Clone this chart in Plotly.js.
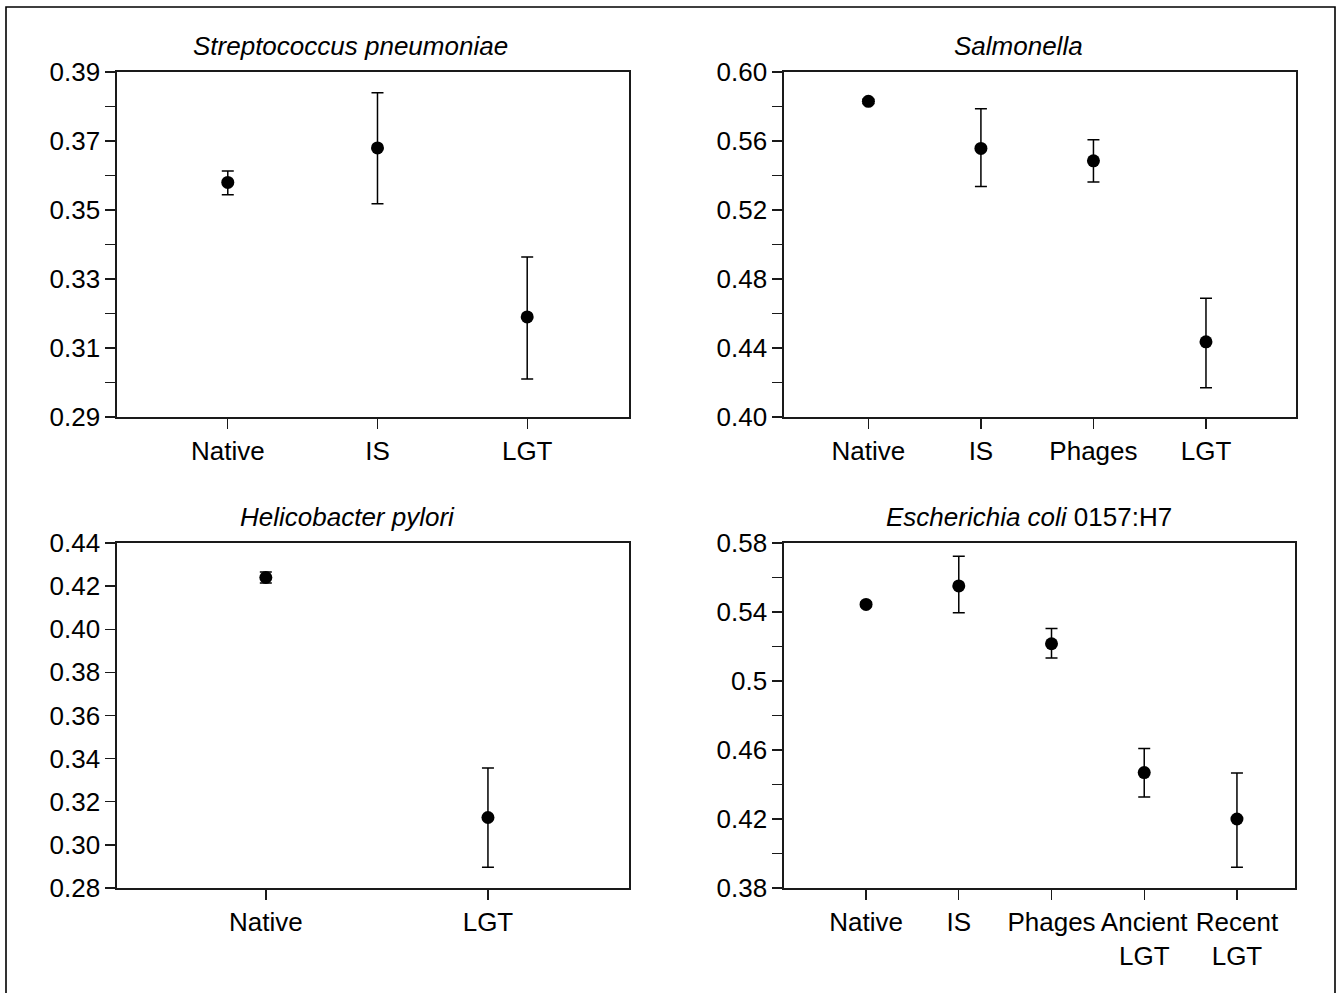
<!DOCTYPE html>
<html>
<head>
<meta charset="utf-8">
<script src="https://cdn.plot.ly/plotly-3.0.1.min.js"></script>
<style>
  html, body { margin: 0; padding: 0; background: #fff; }
  #chart { width: 1336px; height: 993px; }
</style>
</head>
<body>
<div id="chart"></div>
<script>
// ---------- Data ----------
// Streptococcus pneumoniae
const strepCats = ['Native', 'IS', 'LGT'];
const strepMean = [0.358, 0.368, 0.319];
const strepErrUp = [0.0033, 0.016, 0.0174];
const strepErrDown = [0.0036, 0.0162, 0.018];
const strepTicks = [0.29, 0.31, 0.33, 0.35, 0.37, 0.39];
const strepMinor = [0.30, 0.32, 0.34, 0.36, 0.38];

// Salmonella
const salCats = ['Native', 'IS', 'Phages', 'LGT'];
const salMean = [0.583, 0.5557, 0.5485, 0.4436];
const salErrUp = [0.0012, 0.023, 0.0122, 0.0253];
const salErrDown = [0.0012, 0.0221, 0.0122, 0.0266];
const salTicks = [0.40, 0.44, 0.48, 0.52, 0.56, 0.60];
const salMinor = [0.42, 0.46, 0.50, 0.54, 0.58];

// Helicobacter pylori
const heliCats = ['Native', 'LGT'];
const heliMean = [0.424, 0.3127];
const heliErrUp = [0.0026, 0.023];
const heliErrDown = [0.0026, 0.0231];
const heliTicks = [0.28, 0.30, 0.32, 0.34, 0.36, 0.38, 0.40, 0.42, 0.44];

// Escherichia coli 0157:H7
const ecoliCats = ['Native', 'IS', 'Phages', 'Ancient<br>LGT', 'Recent<br>LGT'];
const ecoliMean = [0.5444, 0.5551, 0.5216, 0.4469, 0.420];
const ecoliErrUp = [0.0012, 0.0172, 0.0089, 0.0139, 0.0267];
const ecoliErrDown = [0.0012, 0.0155, 0.0083, 0.0141, 0.028];
const ecoliTicks = [0.38, 0.42, 0.46, 0.50, 0.54, 0.58];
const ecoliTickText = ['0.38', '0.42', '0.46', '0.5', '0.54', '0.58'];
const ecoliMinor = [0.40, 0.44, 0.48, 0.52, 0.56];

// ---------- Styling ----------
const W = 1336, H = 993;
const FONT = '"Liberation Sans", Arial, Helvetica, sans-serif';
const AX = '#1a1a1a';
const FS = 26;

function pt(cats, mean, up, down, xa, ya) {
  return {
    type: 'scatter', mode: 'markers',
    x: cats, y: mean, xaxis: xa, yaxis: ya,
    marker: { color: '#000', size: 13 },
    error_y: { type: 'data', symmetric: false, array: up, arrayminus: down,
               color: '#000', thickness: 1.5, width: 6 },
    showlegend: false, hoverinfo: 'skip', cliponaxis: false
  };
}

function xax(px0, px1, range, anchor) {
  return {
    domain: [px0 / W, px1 / W], anchor: anchor, type: 'category',
    range: range, showline: true, mirror: true, linecolor: AX, linewidth: 1.6,
    ticks: 'outside', ticklen: 10, tickwidth: 1.4, tickcolor: AX,
    showgrid: false, zeroline: false, fixedrange: true,
    tickfont: { family: FONT, size: FS, color: '#000' }, tickangle: 0
  };
}
function yax(top, bot, range, tv, tt, minorVals, anchor) {
  const a = {
    domain: [1 - bot / H, 1 - top / H], anchor: anchor,
    range: range, showline: true, mirror: true, linecolor: AX, linewidth: 1.6,
    ticks: 'outside', ticklen: 10, tickwidth: 1.4, tickcolor: AX,
    showgrid: false, zeroline: false, fixedrange: true,
    tickmode: 'array', tickvals: tv, ticktext: tt,
    tickfont: { family: FONT, size: FS, color: '#000' }
  };
  if (minorVals) {
    a.minor = { tickmode: 'array', tickvals: minorVals, ticks: 'outside',
                ticklen: 10, tickwidth: 1.4, tickcolor: AX, showgrid: false };
  }
  return a;
}
const fmt2 = v => v.map(x => x.toFixed(2));

const data = [
  pt(strepCats, strepMean, strepErrUp, strepErrDown, 'x', 'y'),
  pt(salCats, salMean, salErrUp, salErrDown, 'x2', 'y2'),
  pt(heliCats, heliMean, heliErrUp, heliErrDown, 'x3', 'y3'),
  pt(ecoliCats, ecoliMean, ecoliErrUp, ecoliErrDown, 'x4', 'y4')
];

function title(text, cx, topPx) {
  return {
    text: text, xref: 'paper', yref: 'paper', x: cx / W, y: 1 - topPx / H,
    xanchor: 'center', yanchor: 'bottom', yshift: 9, showarrow: false,
    font: { family: FONT, size: FS, color: '#000' }
  };
}

const layout = {
  width: W, height: H,
  margin: { l: 0, r: 0, t: 0, b: 0 },
  paper_bgcolor: '#fff', plot_bgcolor: '#fff',
  showlegend: false,
  xaxis:  xax(117, 629, [-0.74, 2.68], 'y'),
  yaxis:  yax(72, 417, [0.29, 0.39], strepTicks, fmt2(strepTicks), strepMinor, 'x'),
  xaxis2: xax(784, 1296, [-0.75, 3.8], 'y2'),
  yaxis2: yax(72, 417, [0.40, 0.60], salTicks, fmt2(salTicks), salMinor, 'x2'),
  xaxis3: xax(117, 629, [-0.67, 1.635], 'y3'),
  yaxis3: yax(543, 888, [0.28, 0.44], heliTicks, fmt2(heliTicks), null, 'x3'),
  xaxis4: xax(784, 1295, [-0.885, 4.626], 'y4'),
  yaxis4: yax(543, 888, [0.38, 0.58], ecoliTicks, ecoliTickText, ecoliMinor, 'x4'),
  annotations: [
    title('<i>Streptococcus pneumoniae</i>', 350, 72),
    title('<i>Salmonella</i>', 1018, 72),
    title('<i>Helicobacter pylori</i>', 347, 543),
    title('<i>Escherichia coli</i> 0157:H7', 1029, 543)
  ],
  shapes: [
    { type: 'rect', xref: 'paper', yref: 'paper',
      x0: 6 / W, x1: 1335 / W, y0: -0.05, y1: 1 - 7 / H,
      line: { color: '#000', width: 1.6 }, fillcolor: 'rgba(0,0,0,0)', layer: 'below' }
  ]
};

Plotly.newPlot('chart', data, layout, { displayModeBar: false, staticPlot: true });
</script>
</body>
</html>
